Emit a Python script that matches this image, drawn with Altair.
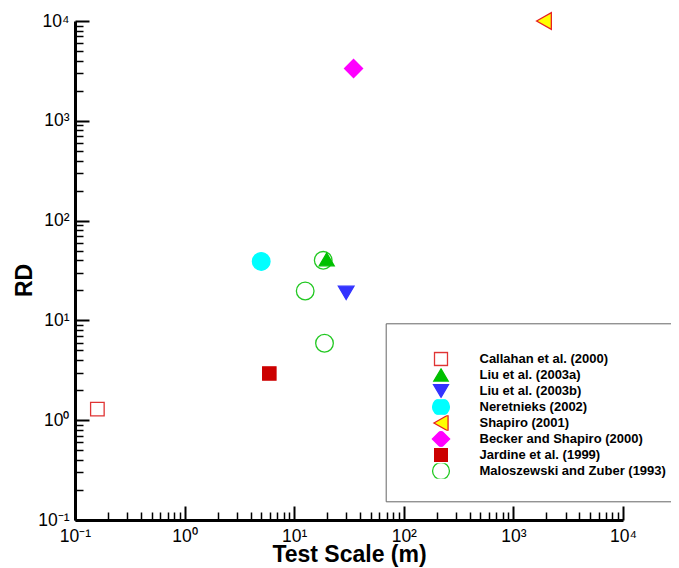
import altair as alt
import pandas as pd

# ---------------- data ----------------
study_names = [
    "Callahan et al. (2000)",
    "Liu et al. (2003a)",
    "Liu et al. (2003b)",
    "Neretnieks (2002)",
    "Shapiro (2001)",
    "Becker and Shapiro (2000)",
    "Jardine et al. (1999)",
    "Maloszewski and Zuber (1993)",
]

maloszewski_scale = [18.4, 12.6, 18.9]
maloszewski_rd = [40.0, 19.7, 5.9]
callahan_scale = [0.16]
callahan_rd = [1.29]
liu_a_scale = [19.8]
liu_a_rd = [40.8]
liu_b_scale = [29.8]
liu_b_rd = [18.9]
neretnieks_scale = [5.0]
neretnieks_rd = [39.0]
shapiro_scale = [1900.0]
shapiro_rd = [10000.0]
becker_scale = [34.8]
becker_rd = [3340.0]
jardine_scale = [5.93]
jardine_rd = [2.94]

fill_colors = ["transparent", "#00c000", "#3333ff", "#00ffff", "#ffff00",
               "#ff00ff", "#cc0000", "transparent"]
stroke_colors = ["#e03434", "#00c000", "#3333ff", "#00ffff", "#e82020",
                 "#ff00ff", "#cc0000", "#22c822"]
# marker outlines in symbol units (1 unit = 6 px at size 144)
marker_shapes = [
    "M-1.13,-1.13H1.13V1.13H-1.13Z",                          # open square
    "M0,-1.06L1.25,1.06L-1.25,1.06Z",                         # triangle up
    "M0,1.1L1.3,-1.1L-1.3,-1.1Z",                             # triangle down
    "M1.47,0A1.47,1.47,0,1,1,-1.47,0A1.47,1.47,0,1,1,1.47,0Z",  # circle
    "M-1.23,0L1.23,-1.39L1.23,1.39Z",                         # triangle left
    "M0,-1.5L1.5,0L0,1.5L-1.5,0Z",                            # diamond
    "M-1.11,-1.11H1.11V1.11H-1.11Z",                          # filled square
    "M1.47,0A1.47,1.47,0,1,1,-1.47,0A1.47,1.47,0,1,1,1.47,0Z",  # open circle
]

major_values = [0.1, 1, 10, 100, 1000, 10000]
major_labels = ["10\u207b\u00b9", "10\u2070", "10\u00b9", "10\u00b2", "10\u00b3", "10\u2074"]
minor_steps = [2, 3, 4, 5, 6, 7, 8, 9]

# ---------------- table ----------------
rows = []
def add(name, xs, ys):
    for a, b in zip(xs, ys):
        rows.append({"study": name, "scale": a, "rd": b})

add(study_names[7], maloszewski_scale, maloszewski_rd)
add(study_names[0], callahan_scale, callahan_rd)
add(study_names[1], liu_a_scale, liu_a_rd)
add(study_names[2], liu_b_scale, liu_b_rd)
add(study_names[3], neretnieks_scale, neretnieks_rd)
add(study_names[4], shapiro_scale, shapiro_rd)
add(study_names[5], becker_scale, becker_rd)
add(study_names[6], jardine_scale, jardine_rd)
df = pd.DataFrame(rows)

minor_values = [m * d for d in major_values[:-1] for m in minor_steps]
label_expr = " : ".join(
    f"datum.value === {v} ? '{t}'" for v, t in zip(major_values, major_labels)
) + " : ''"

FONT = "Liberation Sans"
log_scale = alt.Scale(type="log", domain=[0.1, 10000], nice=False)


def main_axis(title, orient, **kw):
    return alt.Axis(
        orient=orient,
        values=major_values,
        labelExpr=label_expr,
        title=title,
        grid=False,
        ticks=False,
        tickSize=0,
        domainColor="black",
        domainWidth=3,
        labelFont=FONT,
        labelFontSize=17.5,
        labelColor="black",
        labelFlush=False,
        labelOverlap=False,
        titleFont=FONT,
        titleFontSize=23,
        titleFontWeight="bold",
        titleColor="black",
        titleBaseline="alphabetic",
        **kw,
    )


def tick_axis(values, orient, size, width):
    # ticks pointing into the plot: axis shifted inward by its tick length
    return alt.Axis(
        orient=orient,
        values=values,
        title=None,
        grid=False,
        domain=False,
        labels=False,
        ticks=True,
        tickSize=size,
        tickWidth=width,
        tickColor="black",
        offset={"expr": str(-size)},
    )


legend = alt.Legend(
    title=" ",
    orient="none",
    legendX=310.7,
    legendY=302.3,
    direction="vertical",
    padding=22.3,
    strokeColor="#666666",
    fillColor="white",
    rowPadding=0,
    clipHeight=15.6,
    symbolSize=132,
    symbolStrokeWidth=1.3,
    symbolOffset=26.5,
    labelOffset=32,
    labelFont=FONT,
    labelFontSize=13,
    labelFontWeight="bold",
    labelColor="black",
    labelLimit=400,
    titleFontSize=5,
    titlePadding=0.6,
)

base = alt.Chart(df)

major_ticks = base.mark_point(opacity=0).encode(
    x=alt.X("scale:Q", scale=log_scale, axis=tick_axis(major_values, "bottom", 14, 2)),
    y=alt.Y("rd:Q", scale=log_scale, axis=tick_axis(major_values, "left", 14, 2)),
)
minor_ticks = base.mark_point(opacity=0).encode(
    x=alt.X("scale:Q", scale=log_scale, axis=tick_axis(minor_values, "bottom", 8, 1.5)),
    y=alt.Y("rd:Q", scale=log_scale, axis=tick_axis(minor_values, "left", 8, 1.5)),
)

points = base.mark_point(
    filled=True, opacity=1, size=144, strokeWidth=1.3
).encode(
    x=alt.X("scale:Q", scale=log_scale,
            axis=main_axis("Test Scale (m)", "bottom", labelPadding=7, titleY=41.7)),
    y=alt.Y("rd:Q", scale=log_scale,
            axis=main_axis("RD", "left", labelPadding=6, titleX=-43.3, titleY=259)),
    fill=alt.Fill("study:N", scale=alt.Scale(domain=study_names, range=fill_colors), legend=legend),
    stroke=alt.Stroke("study:N", scale=alt.Scale(domain=study_names, range=stroke_colors), legend=legend),
    shape=alt.Shape("study:N", scale=alt.Scale(domain=study_names, range=marker_shapes), legend=legend),
)

chart = alt.layer(major_ticks, minor_ticks, points).resolve_axis(
    x="independent", y="independent"
).properties(
    width=548,
    height=499,
    padding={"left": 67, "top": 13, "right": 48, "bottom": 47},
    autosize="none",
    background="white",
).configure_view(stroke=None)

chart.save("out.html", embed_options={"renderer": "svg", "actions": False})
